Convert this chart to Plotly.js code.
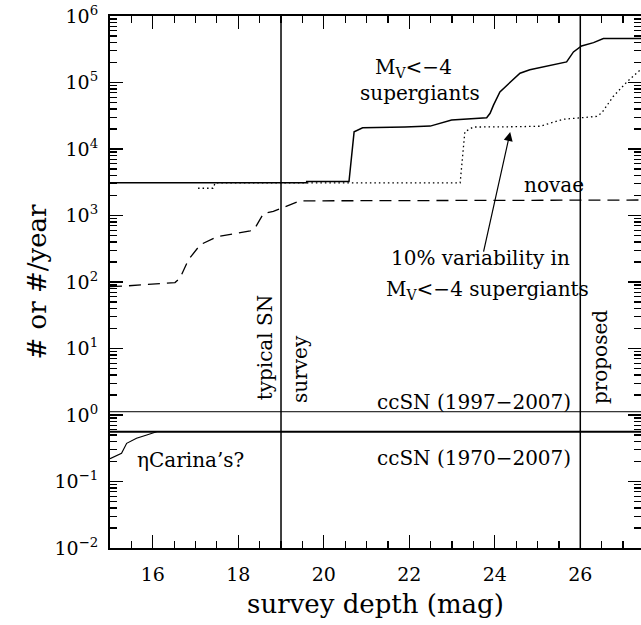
<!DOCTYPE html>
<html>
<head>
<meta charset="utf-8">
<script src="https://cdn.plot.ly/plotly-3.0.1.min.js"></script>
<style>html,body{margin:0;padding:0;background:#fff;}#chart{width:641px;height:625px;}</style>
</head>
<body>
<div id="chart"></div>
<script>
// ---- data ----
const xMin = 15, xMax = 27.42;
const sgX = [15, 19.6, 19.6, 20.59, 20.71, 20.81, 20.91, 21.9, 22.49, 22.99, 23.81, 23.89, 23.97, 24.12, 24.36, 24.59, 24.82, 25.22, 25.68, 25.84, 26.03, 26.31, 26.54, 27.42];
const sgY = [3100, 3100, 3250, 3250, 18200, 19300, 20900, 21500, 22100, 27300, 29500, 34400, 45700, 72400, 102000, 138000, 155000, 174000, 204000, 288000, 355000, 398000, 457000, 457000];
const varX = [17.06, 17.41, 17.46, 23.19, 23.30, 23.50, 24.43, 25.06, 25.60, 26.38, 26.50, 26.77, 27.09, 27.42];
const varY = [2570, 2570, 3100, 3100, 18200, 21400, 21600, 22000, 28000, 30900, 34700, 61700, 102000, 158000];
const novX = [15, 15.35, 16.52, 16.64, 16.83, 17.11, 17.50, 18.28, 18.39, 18.59, 18.82, 19.13, 19.44, 27.42];
const novY = [85, 87, 98, 115, 214, 363, 479, 589, 646, 1070, 1150, 1380, 1660, 1710];
const etaX = [15, 15.27, 15.39, 15.62, 15.86, 16.09];
const etaY = [0.22, 0.265, 0.375, 0.447, 0.50, 0.56];
const ccSN9707 = 1.12;
const ccSN7007 = 0.56;
const depthLines = [19, 26];
const yTickVals = [1e-2, 1e-1, 1, 10, 100, 1e3, 1e4, 1e5, 1e6];
const yTickText = ['10<sup>\u22122</sup>', '10<sup>\u22121</sup>', '10<sup>0</sup>', '10<sup>1</sup>', '10<sup>2</sup>', '10<sup>3</sup>', '10<sup>4</sup>', '10<sup>5</sup>', '10<sup>6</sup>'];
const xTickVals = [16, 18, 20, 22, 24, 26];

const FONT = 'DejaVu Serif';
const traces = [];
traces.push({x: novX, y: novY, mode: 'lines', line: {color: '#000', width: 1.3, dash: '12px,7px'}});
traces.push({x: varX, y: varY, mode: 'lines', line: {color: '#000', width: 1.3, dash: '1.5px,3px'}});
traces.push({x: sgX, y: sgY, mode: 'lines', line: {color: '#000', width: 1.5}});
traces.push({x: etaX, y: etaY, mode: 'lines', line: {color: '#000', width: 1.2}});
traces.push({x: [xMin, xMax], y: [ccSN9707, ccSN9707], mode: 'lines', line: {color: '#000', width: 1}});
traces.push({x: [xMin, xMax], y: [ccSN7007, ccSN7007], mode: 'lines', line: {color: '#000', width: 2}});
depthLines.forEach(function (d) {
  traces.push({x: [d, d], y: [1e-2, 1e6], mode: 'lines', line: {color: '#000', width: 1.5}});
});

const L = Math.log10;
const tf = {family: FONT, size: 20, color: '#000'};
function ann(x, y, text, opts) {
  return Object.assign({x: x, y: L(y), xref: 'x', yref: 'y', text: text, showarrow: false, font: tf}, opts || {});
}
const annotations = [
  ann(22.09, Math.pow(10, 5.22), 'M<sub>V</sub>&lt;\u22124'),
  ann(22.25, Math.pow(10, 4.84), 'supergiants'),
  ann(25.39, Math.pow(10, 3.46), 'novae'),
  ann(23.66, Math.pow(10, 2.36), '10% variability in'),
  ann(23.82, Math.pow(10, 1.88), 'M<sub>V</sub>&lt;\u22124 supergiants'),
  ann(25.82, Math.pow(10, 0.195), 'ccSN (1997\u22122007)', {xanchor: 'right'}),
  ann(25.82, Math.pow(10, -0.647), 'ccSN (1970\u22122007)', {xanchor: 'right'}),
  ann(15.58, Math.pow(10, -0.677), '\u03b7Carina\u2019s?', {xanchor: 'left'}),
  ann(18.63, Math.pow(10, 1.02), 'typical SN', {textangle: -90}),
  ann(19.44, Math.pow(10, 0.69), 'survey', {textangle: -90}),
  ann(26.46, Math.pow(10, 0.87), 'proposed', {textangle: -90}),
  {x: 24.36, y: 4.256, ax: 23.73, ay: 2.436, xref: 'x', yref: 'y', axref: 'x', ayref: 'y',
   text: '', showarrow: true, arrowhead: 2, arrowsize: 1.5, arrowwidth: 1.2, arrowcolor: '#000'}
];

const layout = {
  width: 641, height: 625,
  margin: {l: 110, r: 0, t: 16, b: 77},
  paper_bgcolor: '#fff', plot_bgcolor: '#fff',
  showlegend: false,
  font: {family: FONT, color: '#000'},
  xaxis: {
    range: [xMin, xMax], tickmode: 'array', tickvals: xTickVals,
    ticks: 'inside', ticklen: 13, tickwidth: 1.2, tickcolor: '#000',
    showline: true, linewidth: 2, linecolor: '#000', mirror: 'allticks',
    showgrid: false, zeroline: false,
    tickfont: {family: FONT, size: 19, color: '#000'}, ticklabelstandoff: 8,
    minor: {dtick: 0.5, tick0: 15, ticks: 'inside', ticklen: 7, tickwidth: 1.2, tickcolor: '#000', showgrid: false},
    title: {text: 'survey depth (mag)', font: {family: FONT, size: 26, color: '#000'}, standoff: 11}
  },
  yaxis: {
    type: 'log', range: [-2, 6], tickmode: 'array', tickvals: yTickVals, ticktext: yTickText,
    ticks: 'inside', ticklen: 13, tickwidth: 1.2, tickcolor: '#000',
    showline: true, linewidth: 2, linecolor: '#000', mirror: 'allticks',
    showgrid: false, zeroline: false,
    tickfont: {family: FONT, size: 19, color: '#000'}, ticklabelstandoff: 6,
    minor: {dtick: 'D1', ticks: 'inside', ticklen: 7, tickwidth: 1.2, tickcolor: '#000', showgrid: false},
    title: {text: '# or #/year', font: {family: FONT, size: 26, color: '#000'}, standoff: 0}
  },
  annotations: annotations
};
Plotly.newPlot('chart', traces, layout, {staticPlot: true, displayModeBar: false});
</script>
</body>
</html>
